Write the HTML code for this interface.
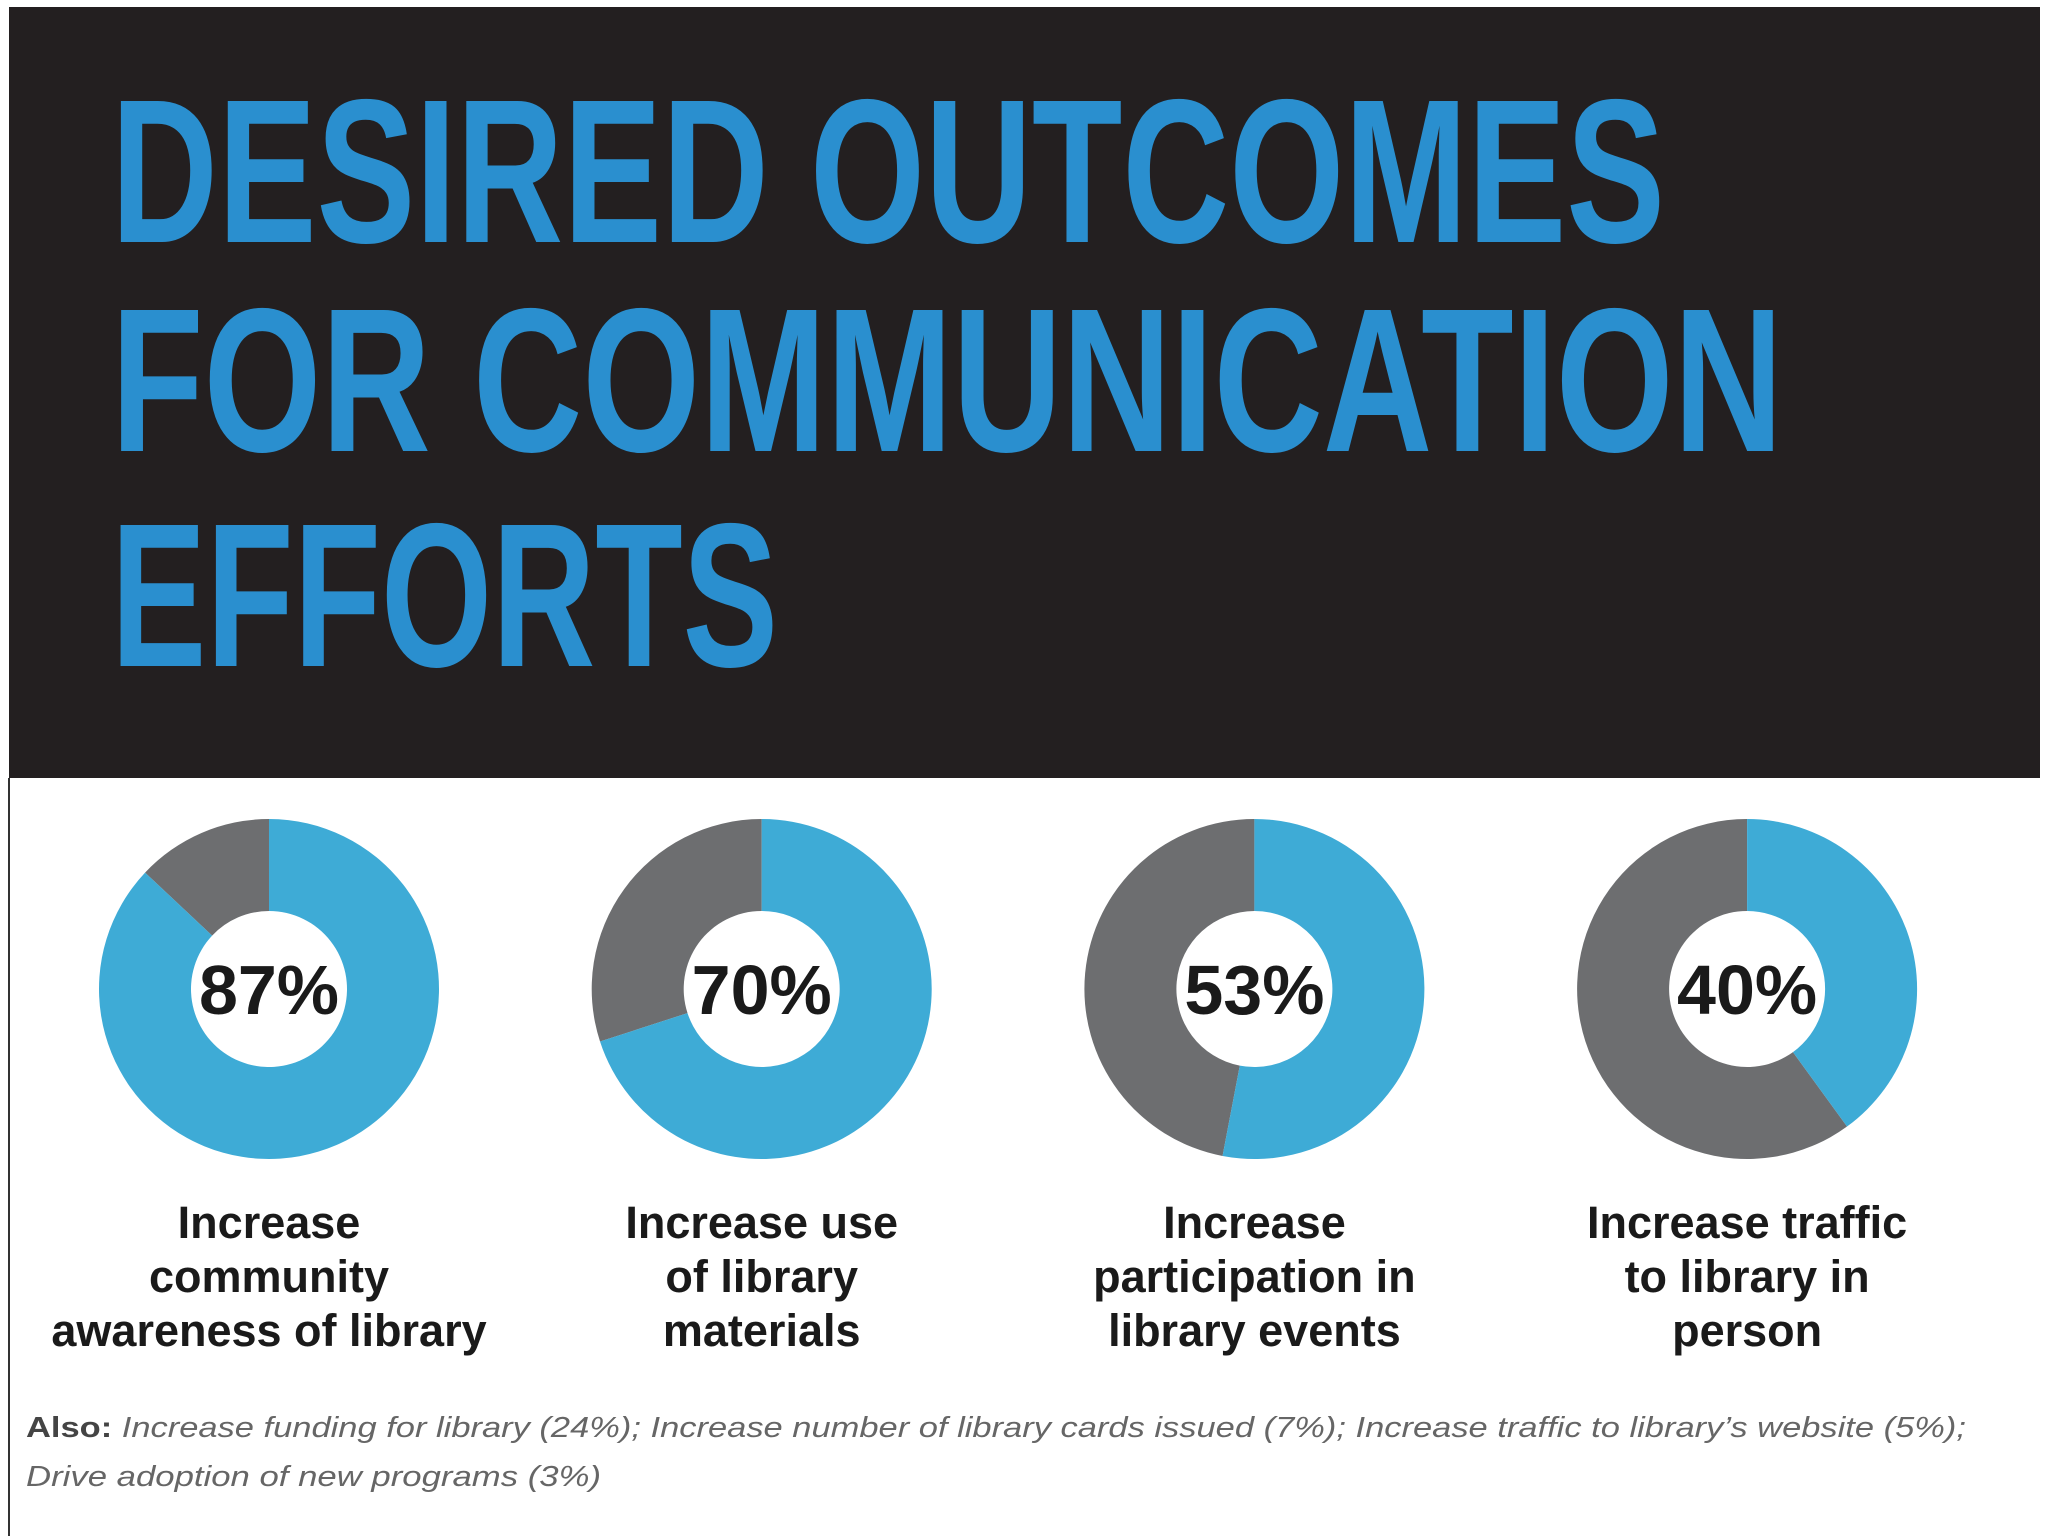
<!DOCTYPE html>
<html><head><meta charset="utf-8"><style>
html,body{margin:0;padding:0;background:#fff;}
svg{display:block;}
</style></head><body>
<svg id="chart" width="2048" height="1536" viewBox="0 0 2048 1536" xmlns="http://www.w3.org/2000/svg">
<rect x="0" y="0" width="2048" height="1536" fill="#fff"/>
<rect x="9" y="7" width="2031" height="771" fill="#231f20"/>
<line x1="9" y1="778" x2="9" y2="1536" stroke="#333" stroke-width="2"/>
<g font-family="'Liberation Sans Narrow','Liberation Sans',sans-serif" font-weight="bold" fill="#2a8fcf" font-size="205">
<text x="111" y="242" textLength="1554" lengthAdjust="spacingAndGlyphs">DESIRED OUTCOMES</text>
<text x="111" y="451" textLength="1672" lengthAdjust="spacingAndGlyphs">FOR COMMUNICATION</text>
<text x="111" y="666" textLength="667" lengthAdjust="spacingAndGlyphs">EFFORTS</text>
</g>
<g id="donuts"></g>
<g font-family="'Liberation Sans',sans-serif" font-size="29" fill="#666">
<text x="26" y="1437" textLength="1940" lengthAdjust="spacingAndGlyphs"><tspan font-weight="bold" fill="#444">Also:</tspan><tspan font-style="italic"> Increase funding for library (24%); Increase number of library cards issued (7%); Increase traffic to library’s website (5%);</tspan></text>
<text x="26" y="1486" font-style="italic" textLength="575" lengthAdjust="spacingAndGlyphs">Drive adoption of new programs (3%)</text>
</g>
</svg>
<script>
const categories = [["Increase","community","awareness of library"],["Increase use","of library","materials"],["Increase","participation in","library events"],["Increase traffic","to library in","person"]];
const values = [87, 70, 53, 40];
const valueLabels = ["87%","70%","53%","40%"];
const NS = "http://www.w3.org/2000/svg";
const g = document.getElementById("donuts");
const cx0 = 269, step = 492.7, cy = 989, R = 170, r = 78;
function pt(frac, rad, cx){ const a = frac*2*Math.PI; return [cx + rad*Math.sin(a), cy - rad*Math.cos(a)]; }
function arc(f0, f1, cx){
  const large = (f1-f0) > 0.5 ? 1 : 0;
  const [x0,y0]=pt(f0,R,cx),[x1,y1]=pt(f1,R,cx),[x2,y2]=pt(f1,r,cx),[x3,y3]=pt(f0,r,cx);
  return `M${x0},${y0} A${R},${R} 0 ${large} 1 ${x1},${y1} L${x2},${y2} A${r},${r} 0 ${large} 0 ${x3},${y3} Z`;
}
values.forEach((v,i)=>{
  const cx = cx0 + i*step;
  const f = v/100;
  const grp = document.createElementNS(NS,"g");
  
  
  const bg = document.createElementNS(NS,"path");
  bg.setAttribute("d", arc(f, 0.99999, cx)); bg.setAttribute("fill","#6d6e70");
  
  
  grp.appendChild(bg);
  const fg = document.createElementNS(NS,"path");
  fg.setAttribute("d", arc(0, Math.min(f,0.99999), cx)); fg.setAttribute("fill","#3eabd6");
  
  
  grp.appendChild(fg);
  const t = document.createElementNS(NS,"text");
  t.setAttribute("x",cx); t.setAttribute("y",cy+25); t.setAttribute("text-anchor","middle");
  t.setAttribute("font-family","'Liberation Sans',sans-serif"); t.setAttribute("font-weight","bold");
  t.setAttribute("font-size","70"); t.setAttribute("fill","#1a1a1a");
  t.textContent = valueLabels[i];
  
  
  grp.appendChild(t);
  categories[i].forEach((line,j)=>{
    const l = document.createElementNS(NS,"text");
    l.setAttribute("x",cx); l.setAttribute("y",1238 + j*54); l.setAttribute("text-anchor","middle");
    l.setAttribute("font-family","'Liberation Sans',sans-serif"); l.setAttribute("font-weight","bold");
    l.setAttribute("font-size","45"); l.setAttribute("fill","#1a1a1a");
    l.textContent = line;
    
    
    grp.appendChild(l);
  });
  g.appendChild(grp);
});
</script>
</body></html>
